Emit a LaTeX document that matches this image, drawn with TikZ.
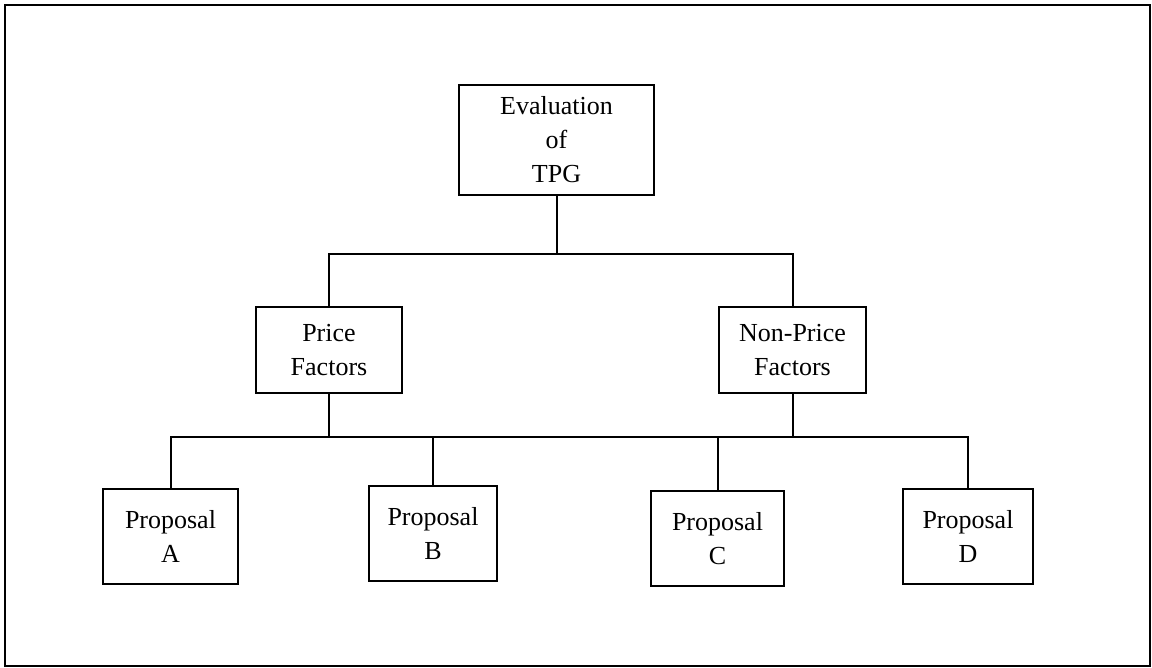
\documentclass[tikz,border=0pt]{standalone}
\usepackage{fontspec}
\setmainfont{Liberation Serif}
\begin{document}
\begin{tikzpicture}[x=1pt,y=-1pt,
  box/.style={draw,line width=2pt,inner sep=0pt,align=center,
    font=\fontsize{26}{34}\selectfont},
  link/.style={line width=2pt}]
\useasboundingbox (0,0) rectangle (1152,668);
\draw[line width=2.2pt] (5,5) rectangle (1150,666);

% hierarchy boxes
\node[box,minimum width=195pt,minimum height=110pt] (top) at (556.5,140) {Evaluation\\of\\TPG};
\node[box,minimum width=146pt,minimum height=86pt] (price) at (329,350) {Price\\Factors};
\node[box,minimum width=147pt,minimum height=86pt] (nonprice) at (792.5,350) {Non-Price\\Factors};
\node[box,minimum width=135pt,minimum height=95pt] (pa) at (170.5,536.5) {Proposal\\A};
\node[box,minimum width=128pt,minimum height=95pt] (pb) at (433,533.5) {Proposal\\B};
\node[box,minimum width=133pt,minimum height=95pt] (pc) at (717.5,538.5) {Proposal\\C};
\node[box,minimum width=130pt,minimum height=95pt] (pd) at (968,536.5) {Proposal\\D};

% connector rails
\coordinate (upper) at (0,254);
\coordinate (lower) at (0,437);

\draw[link] (top.south) -- (top.south |- upper);
\draw[link] (price.north) |- (upper -| nonprice.north) -- (nonprice.north);

\draw[link] (price.south) -- (price.south |- lower);
\draw[link] (nonprice.south) -- (nonprice.south |- lower);
\draw[link] (pa.north) |- (lower -| pd.north) -- (pd.north);
\draw[link] (pb.north) -- (pb.north |- lower);
\draw[link] (pc.north) -- (pc.north |- lower);
\end{tikzpicture}
\end{document}
